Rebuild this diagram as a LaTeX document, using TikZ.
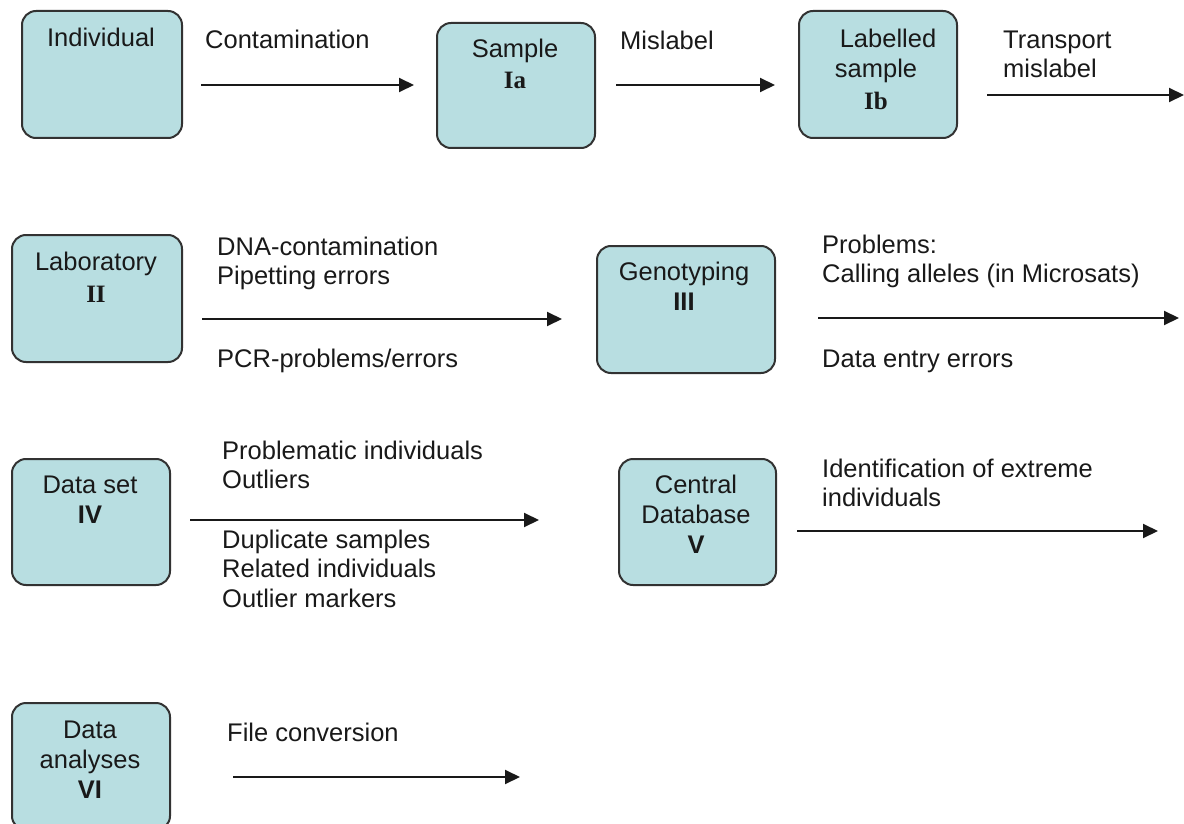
\documentclass[tikz,border=0pt]{standalone}
\usepackage{fontspec}
\setmainfont{Liberation Sans}
\newfontfamily\romfont{Liberation Serif}
\usetikzlibrary{arrows.meta}
\definecolor{boxfill}{RGB}{184,222,225}
\definecolor{boxline}{RGB}{50,50,50}
\definecolor{ink}{RGB}{25,25,25}
\newcommand\myts{\rule{0pt}{19pt}}
\newcommand\romnum[1]{{\fontsize{25}{30}\romfont\bfseries #1}}
\begin{document}
\begin{tikzpicture}[x=1pt,y=-1pt,
  box/.style={draw=boxline, line width=2pt, fill=boxfill, rounded corners=14pt,
              anchor=north west, inner sep=0pt},
  txt/.style={anchor=north west, inner sep=0pt, align=left, text=ink,
              font=\fontsize{25.5}{29.5}\selectfont},
  btxt/.style={anchor=north, inner sep=0pt, align=center, text=ink,
               font=\fontsize{25.5}{30}\selectfont},
  flow/.style={line width=2pt, draw=ink, -{Triangle[length=15pt,width=14pt]}}]
\useasboundingbox (0,0) rectangle (1184,824);
\clip (0,0) rectangle (1184,824);

% boxes
\node[box, minimum width=160pt, minimum height=127pt] (ind)  at (21,10)  {};
\node[box, minimum width=158pt, minimum height=125pt] (sam)  at (436,22) {};
\node[box, minimum width=158pt, minimum height=127pt] (lab)  at (798,10) {};
\node[box, minimum width=170pt, minimum height=127pt] (labo) at (11,234) {};
\node[box, minimum width=178pt, minimum height=127pt] (geno) at (596,245) {};
\node[box, minimum width=158pt, minimum height=126pt] (ds)   at (11,458) {};
\node[box, minimum width=157pt, minimum height=126pt] (cdb)  at (618,458) {};
\node[box, minimum width=158pt, minimum height=127pt] (da)   at (11,702) {};

% box texts
\node[btxt] (tind)  at (101,27)  {\myts Individual};
\node[btxt] (tsam)  at (515,38)  {\myts Sample\\[1pt]\romnum{Ia}};
\node[btxt] (tlab)  at (876,28)  {\myts\hspace*{24pt}Labelled\\sample\\[2pt]\romnum{Ib}};
\node[btxt] (tlabo) at (96,251)  {\myts Laboratory\\[2pt]\romnum{II}};
\node[btxt] (tgeno) at (684,261) {\myts Genotyping\\\textbf{III}};
\node[btxt] (tds)   at (90,474)  {\myts Data set\\\textbf{IV}};
\node[btxt] (tcdb)  at (696,474) {\myts Central\\Database\\\textbf{V}};
\node[btxt] (tda)   at (90,719)  {\myts Data\\analyses\\\textbf{VI}};

% connector labels
\node[txt] (l1)  at (205,29)   {\myts Contamination};
\node[txt] (l2)  at (620,30)   {\myts Mislabel};
\node[txt] (l3)  at (1003,29)  {\myts Transport\\mislabel};
\node[txt] (l4a) at (217,236)  {\myts DNA-contamination\\Pipetting errors};
\node[txt] (l4b) at (217,348)  {\myts PCR-problems/errors};
\node[txt] (l5a) at (822,234)  {\myts Problems:\\Calling alleles (in Microsats)};
\node[txt] (l5b) at (822,348)  {\myts Data entry errors};
\node[txt] (l6a) at (222,440)  {\myts Problematic individuals\\Outliers};
\node[txt] (l6b) at (222,529)  {\myts Duplicate samples\\Related individuals\\Outlier markers};
\node[txt] (l7)  at (822,458)  {\myts Identification of extreme\\individuals};
\node[txt] (l8)  at (227,722)  {\myts File conversion};

% connector end points
\coordinate (a1s) at (201,85);  \coordinate (a1e) at (414,85);
\coordinate (a2s) at (616,85);  \coordinate (a2e) at (775,85);
\coordinate (a3s) at (987,95);  \coordinate (a3e) at (1184,95);
\coordinate (a4s) at (202,319); \coordinate (a4e) at (562,319);
\coordinate (a5s) at (818,318); \coordinate (a5e) at (1179,318);
\coordinate (a6s) at (190,520); \coordinate (a6e) at (539,520);
\coordinate (a7s) at (797,531); \coordinate (a7e) at (1158,531);
\coordinate (a8s) at (233,777); \coordinate (a8e) at (520,777);

\draw[flow] (a1s) -- (a1e);
\draw[flow] (a2s) -- (a2e);
\draw[flow] (a3s) -- (a3e);
\draw[flow] (a4s) -- (a4e);
\draw[flow] (a5s) -- (a5e);
\draw[flow] (a6s) -- (a6e);
\draw[flow] (a7s) -- (a7e);
\draw[flow] (a8s) -- (a8e);
\end{tikzpicture}
\end{document}
